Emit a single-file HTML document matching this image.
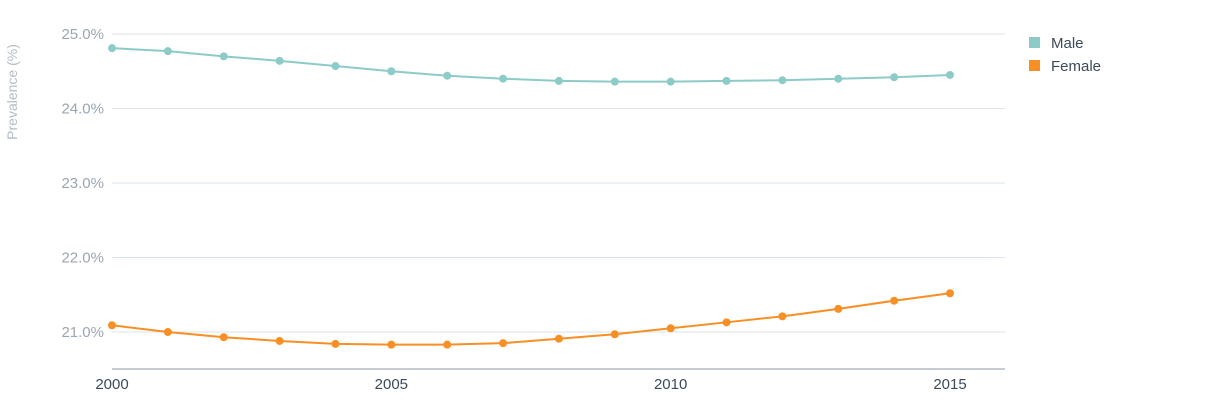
<!DOCTYPE html>
<html><head><meta charset="utf-8"><style>
body{margin:0;background:#fff;width:1230px;height:402px;overflow:hidden;font-family:"Liberation Sans",sans-serif}
</style></head><body>
<svg id="chart" width="1230" height="402" xmlns="http://www.w3.org/2000/svg">
<text transform="translate(17,92) rotate(-90)" text-anchor="middle" font-size="14" fill="#b4bcc6">Prevalence (%)</text>
<g id="grid"></g><g id="series"></g>
<g>
<rect x="1029" y="37" width="11" height="11" fill="#8ccbc8"/>
<text x="1051" y="48" font-size="15" fill="#3c4a5a">Male</text>
<rect x="1029" y="60" width="11" height="11" fill="#f78f24"/>
<text x="1051" y="71" font-size="15" fill="#3c4a5a">Female</text>
</g>
</svg>
<script>
const years=[2000,2001,2002,2003,2004,2005,2006,2007,2008,2009,2010,2011,2012,2013,2014,2015];
const male=[24.81,24.77,24.70,24.64,24.57,24.50,24.44,24.40,24.37,24.36,24.36,24.37,24.38,24.40,24.42,24.45];
const female=[21.09,21.00,20.93,20.88,20.84,20.83,20.83,20.85,20.91,20.97,21.05,21.13,21.21,21.31,21.42,21.52];
const yTicks=[21,22,23,24,25];
const yTickLabels=["21.0%","22.0%","23.0%","24.0%","25.0%"];
const xTicks=[2000,2005,2010,2015];
const NS="http://www.w3.org/2000/svg";
const xs=v=>112+(v-2000)*(950-112)/15;
const ys=v=>34+(25-v)*74.5;
function mk(t,a,p){const e=document.createElementNS(NS,t);for(const k in a)e.setAttribute(k,a[k]);p.appendChild(e);return e;}
const grid=document.getElementById('grid');
yTicks.forEach((t,i)=>{
 const l=mk('line',{x1:112,x2:1005,y1:ys(t),y2:ys(t),stroke:'#dde3ea','stroke-width':1},grid);
 
 
 const tx=mk('text',{x:104,y:ys(t)+5,'text-anchor':'end','font-size':15,fill:'#9aa6b2'},grid);
 tx.textContent=yTickLabels[i];
 
 
});
const ax=mk('line',{x1:112,x2:1005,y1:369,y2:369,stroke:'#8f9aa6','stroke-width':1},grid);


xTicks.forEach(t=>{
 const tx=mk('text',{x:xs(t),y:389,'text-anchor':'middle','font-size':15,fill:'#3c4a5a'},grid);
 tx.textContent=t;
 
 
});
const sg=document.getElementById('series');
[[male,'#8ccbc8','male'],[female,'#f78f24','female']].forEach(([d,c,n])=>{
 const pl=mk('polyline',{points:d.map((v,i)=>xs(years[i])+','+ys(v)).join(' '),fill:'none',stroke:c,'stroke-width':2},sg);
 
 
 d.forEach((v,i)=>{
  const p=mk('circle',{cx:xs(years[i]),cy:ys(v),r:4,fill:c},sg);
  
  
 });
});
</script>
</body></html>
